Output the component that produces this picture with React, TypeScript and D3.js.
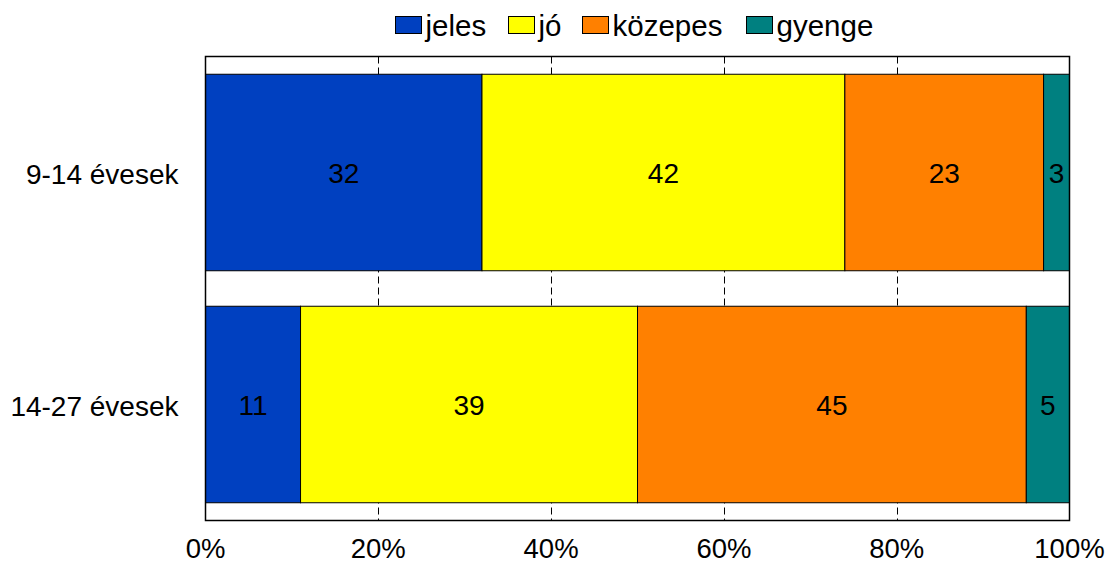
import React from "react";
import * as d3 from "d3";

const categories = ["9-14 évesek", "14-27 évesek"];
const seriesNames = ["jeles", "jó", "közepes", "gyenge"];
const seriesColors = ["#0040C0", "#FFFF00", "#FF8000", "#008080"];
const jeles = [32, 11];
const jo = [42, 39];
const kozepes = [23, 45];
const gyenge = [3, 5];
const xTicks = [0, 20, 40, 60, 80, 100];

const W = 1105;
const H = 563;
const M = { left: 205.5, right: 1069.5, top: 56.5, bottom: 520.5 };
const FONT = "Liberation Sans, Arial, sans-serif";
const legendX = [395, 508, 582, 746];

export default function App() {
  const series = [jeles, jo, kozepes, gyenge];
  const x = d3.scaleLinear().domain([0, 100]).range([M.left, M.right]);
  const y = d3
    .scaleBand<string>()
    .domain(categories)
    .range([M.top, M.bottom])
    .paddingInner(0.153)
    .paddingOuter(0.0765);

  const rows = categories.map((c, i) => {
    let acc = 0;
    return series.map((s, k) => {
      const x0 = acc;
      acc += s[i];
      return { cat: c, k, x0, x1: acc, v: s[i] };
    });
  });

  return (
    <svg width={W} height={H} style={{ display: "block", position: "absolute", left: 0, top: 0 }} fontFamily={FONT}>
      <rect x={0} y={0} width={W} height={H} fill="#fff" />
      {xTicks.slice(1, -1).map((t) => (
        <line key={t} x1={Math.round(x(t)) + 0.5} x2={Math.round(x(t)) + 0.5} y1={M.top} y2={M.bottom} stroke="#000" strokeWidth={1} strokeDasharray="7,4" />
      ))}
      {rows.map((r) =>
        r.map((d) => (
          <rect
            key={d.cat + d.k}
            x={x(d.x0)}
            y={y(d.cat)!}
            width={x(d.x1) - x(d.x0)}
            height={y.bandwidth()}
            fill={seriesColors[d.k]}
            stroke="#000"
            strokeWidth={1}
          />
        ))
      )}
      {rows.map((r) =>
        r.map((d) => (
          <text
            key={"t" + d.cat + d.k}
            x={(x(d.x0) + x(d.x1)) / 2}
            y={y(d.cat)! + y.bandwidth() / 2 + 10.5}
            textAnchor="middle"
            fontSize={28}
            fill="#000"
          >
            {d.v}
          </text>
        ))
      )}
      <rect x={M.left} y={M.top} width={M.right - M.left} height={M.bottom - M.top} fill="none" stroke="#000" strokeWidth={1.5} />
      {categories.map((c) => (
        <text key={c} x={178.5} y={y(c)! + y.bandwidth() / 2 + 11} textAnchor="end" fontSize={28} fill="#000">
          {c}
        </text>
      ))}
      {xTicks.map((t) => (
        <text key={t} x={x(t)} y={557.5} textAnchor="middle" fontSize={27.5} fill="#000">
          {t}%
        </text>
      ))}
      {seriesNames.map((n, k) => (
        <g key={n}>
          <rect x={legendX[k] + 0.5} y={16.5} width={26} height={17} fill={seriesColors[k]} stroke="#000" strokeWidth={1} />
          <text x={legendX[k] + 30.5} y={35.5} fontSize={29.5} fill="#000">
            {n}
          </text>
        </g>
      ))}
    </svg>
  );
}
